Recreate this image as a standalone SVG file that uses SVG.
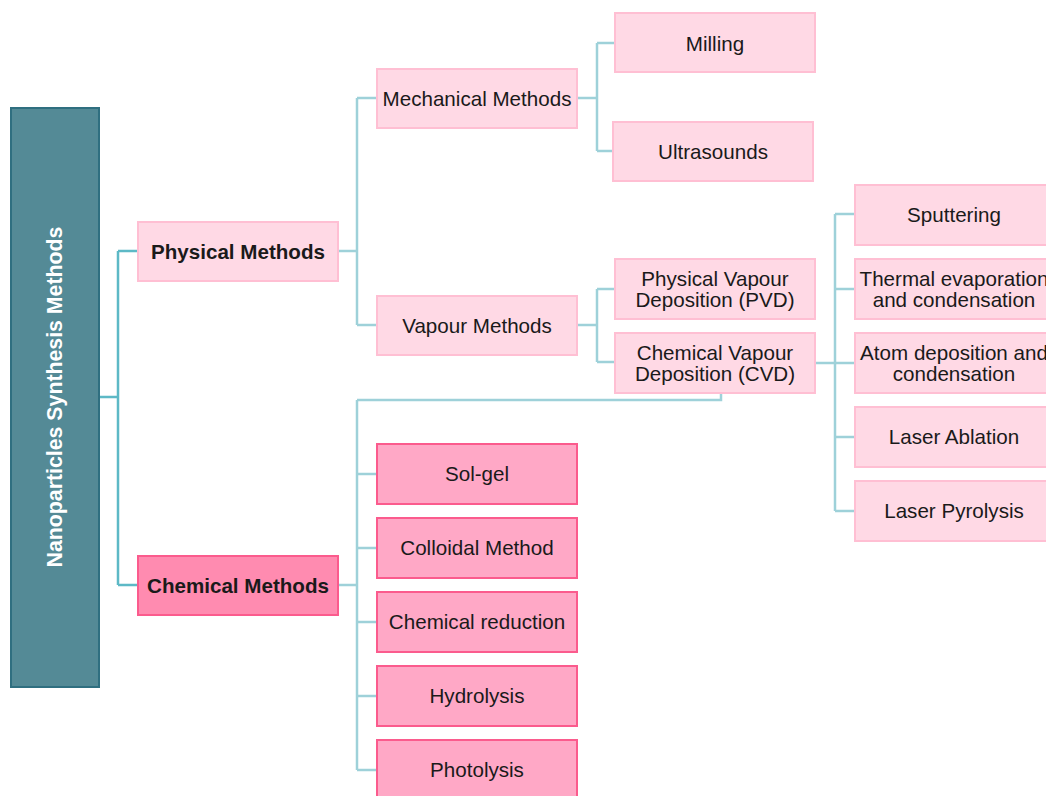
<svg xmlns="http://www.w3.org/2000/svg" width="1046" height="796" viewBox="0 0 1046 796">
<style>
text{font-family:"Liberation Sans",Arial,sans-serif;font-size:20.6px;fill:#1a1a1a;text-anchor:middle;dominant-baseline:central}
.lt{fill:#ffd9e5;stroke:#ffbfd3;stroke-width:2}
.dk{fill:#ffa8c6;stroke:#fb5b8d;stroke-width:2}
.c1{fill:none;stroke:#5db9c6;stroke-width:2.5}
.c2{fill:none;stroke:#9ed1d9;stroke-width:2.5}
.b{font-weight:bold}
</style>
<g id="connectors">
<path class="c1" d="M99 397H118M118 251V585M118 251H138M118 585H138"/>
<path class="c2" d="M338 251H357M357 98V325M357 98H377M357 325H377"/>
<path class="c2" d="M577 98H597M597 43V151M597 43H615M597 151H613"/>
<path class="c2" d="M577 325H597M597 289V362M597 289H615M597 362H615"/>
<path class="c2" d="M815 363H835M835 214V511M835 214H855M835 289H855M835 363H855M835 437H855M835 511H855"/>
<path class="c2" d="M338 585H357M357 400V770M357 400H721V393M357 474H377M357 548H377M357 622H377M357 696H377M357 770H377"/>
</g>
<g id="root">
<rect x="11" y="108" width="88" height="579" fill="#548a96" stroke="#2f6f80" stroke-width="2"/>
<text class="b" x="55" y="397" transform="rotate(-90 55 397)" style="fill:#ffffff;font-size:21.3px">Nanoparticles Synthesis Methods</text>
</g>
<g id="physical"><rect class="lt" x="138" y="222" width="200" height="59"/><text class="b" x="238" y="251">Physical Methods</text></g>
<g id="chemical"><rect x="138" y="556" width="200" height="59" fill="#ff8bb0" stroke="#fb5b8d" stroke-width="2"/><text class="b" x="238" y="585">Chemical Methods</text></g>
<g id="mechanical"><rect class="lt" x="377" y="69" width="200" height="59"/><text x="477" y="98">Mechanical Methods</text></g>
<g id="vapour"><rect class="lt" x="377" y="296" width="200" height="59"/><text x="477" y="325">Vapour Methods</text></g>
<g id="milling"><rect class="lt" x="615" y="13" width="200" height="59"/><text x="715" y="43">Milling</text></g>
<g id="ultrasounds"><rect class="lt" x="613" y="122" width="200" height="59"/><text x="713" y="151">Ultrasounds</text></g>
<g id="pvd"><rect class="lt" x="615" y="259" width="200" height="60"/><text x="715" y="278">Physical Vapour</text><text x="715" y="299">Deposition (PVD)</text></g>
<g id="cvd"><rect class="lt" x="615" y="333" width="200" height="60"/><text x="715" y="352">Chemical Vapour</text><text x="715" y="373">Deposition (CVD)</text></g>
<g id="sputtering"><rect class="lt" x="855" y="185" width="200" height="60"/><text x="954" y="214">Sputtering</text></g>
<g id="thermal"><rect class="lt" x="855" y="259" width="200" height="60"/><text x="954" y="278">Thermal evaporation</text><text x="954" y="299">and condensation</text></g>
<g id="atom"><rect class="lt" x="855" y="333" width="200" height="60"/><text x="954" y="352">Atom deposition and</text><text x="954" y="373">condensation</text></g>
<g id="ablation"><rect class="lt" x="855" y="407" width="200" height="60"/><text x="954" y="436">Laser Ablation</text></g>
<g id="pyrolysis"><rect class="lt" x="855" y="481" width="200" height="60"/><text x="954" y="510">Laser Pyrolysis</text></g>
<g id="solgel"><rect class="dk" x="377" y="444" width="200" height="60"/><text x="477" y="473">Sol-gel</text></g>
<g id="colloidal"><rect class="dk" x="377" y="518" width="200" height="60"/><text x="477" y="547">Colloidal Method</text></g>
<g id="reduction"><rect class="dk" x="377" y="592" width="200" height="60"/><text x="477" y="621">Chemical reduction</text></g>
<g id="hydrolysis"><rect class="dk" x="377" y="666" width="200" height="60"/><text x="477" y="695">Hydrolysis</text></g>
<g id="photolysis"><rect class="dk" x="377" y="740" width="200" height="60"/><text x="477" y="769">Photolysis</text></g>
</svg>
